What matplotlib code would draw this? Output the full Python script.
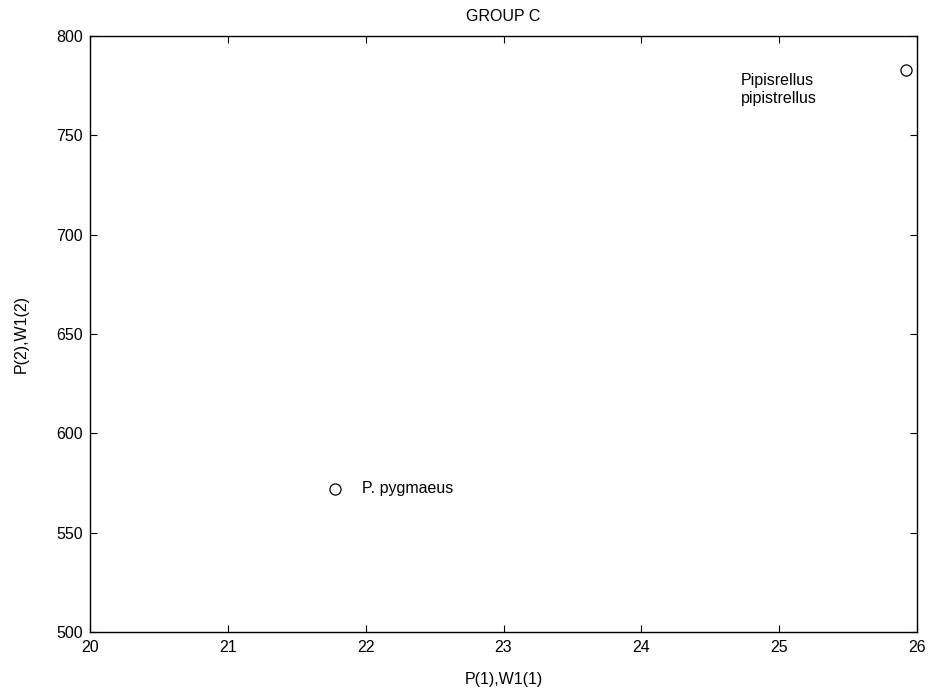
import matplotlib
matplotlib.use("Agg")
import matplotlib.pyplot as plt

x_vals = [21.78, 25.92]
y_vals = [572, 783]
labels = ["P. pygmaeus", "Pipisrellus\npipistrellus"]
label_x = [21.97, 24.72]
label_y = [572, 773]
xticks = [20, 21, 22, 23, 24, 25, 26]
yticks = [500, 550, 600, 650, 700, 750, 800]

plt.rcParams['font.family'] = ['Liberation Sans', 'DejaVu Sans']
fig = plt.figure(figsize=(9.3, 6.96), dpi=100)
ax = fig.add_axes([90/930, 64/696, 827/930, 596/696])
ax.plot(x_vals, y_vals, linestyle='none', marker='o', markersize=8,
        markerfacecolor='none', markeredgecolor='black', markeredgewidth=0.9)
for lx, ly, t in zip(label_x, label_y, labels):
    ax.text(lx, ly, t, ha='left', va='center', fontsize=11.5, linespacing=1.25)
ax.set_xlim(20, 26)
ax.set_ylim(500, 800)
ax.set_xticks(xticks)
ax.set_yticks(yticks)
ax.tick_params(direction='in', length=5, width=0.8, top=True, right=True,
               labelsize=11.5)
ax.tick_params(axis='y', pad=5)
ax.tick_params(axis='x', pad=6)
for s in ax.spines.values():
    s.set_linewidth(1.0)
ax.set_title("GROUP C", fontsize=11.5, pad=11)
ax.set_xlabel("P(1),W1(1)", fontsize=11.5, labelpad=12)
ax.set_ylabel("P(2),W1(2)", fontsize=11.5, labelpad=20)
fig.savefig("out.png", dpi=100)
